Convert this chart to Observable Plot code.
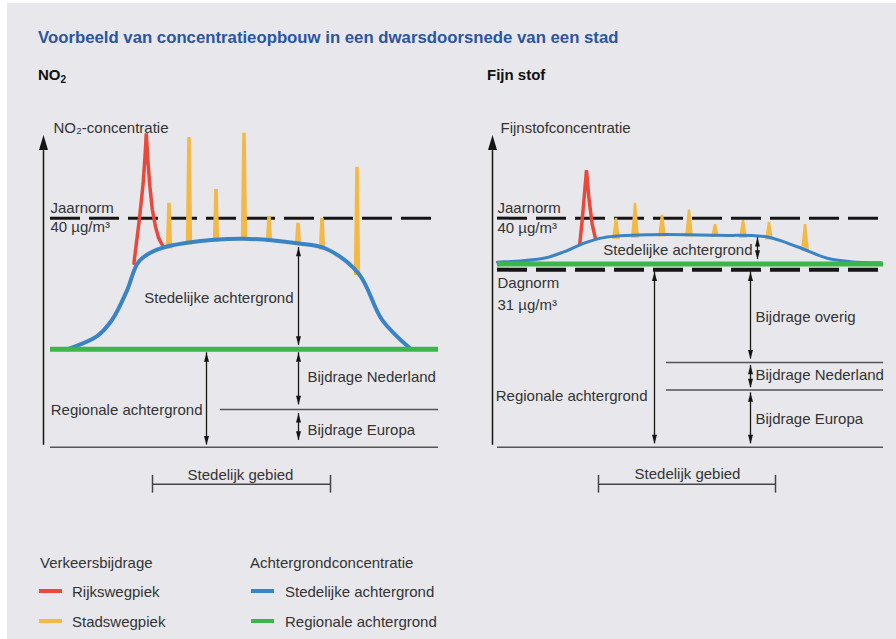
<!DOCTYPE html>
<html><head><meta charset="utf-8">
<script src="https://cdn.jsdelivr.net/npm/d3@7"></script>
<script src="https://cdn.jsdelivr.net/npm/@observablehq/plot@0.6"></script>
<style>
body{margin:0;background:#fff;font-family:"Liberation Sans",Arial,sans-serif;}
#page{position:relative;width:896px;height:639px;overflow:hidden;}
#bg{position:absolute;left:7px;top:3px;right:0;bottom:0;background:#e8e8ec;}
.t{position:absolute;white-space:nowrap;line-height:1;color:#333;font-size:15px;}
.title{color:#2b55a1;font-weight:bold;font-size:16.75px;}
.head{color:#111;font-weight:bold;font-size:15px;}
.head sub{font-size:10px;vertical-align:-3px;line-height:0;}
.sw{position:absolute;width:23px;height:4px;}
.panel{position:absolute;top:90px;}
</style></head>
<body><div id="page"><div id="bg"></div></div>
<script>
// ---------- data (x: position across the city section 0–100, y: concentration µg/m³) ----------
const no2UrbanX   = [5.9, 13.4, 17.2, 20.9, 23.8, 28.4, 35.9, 50.1, 63.4, 70.5, 78.8, 84.7, 91.75];
const no2UrbanY   = [17.1, 19.4, 22.3, 27.4, 32.4, 34.5, 35.7, 36.4, 35.6, 34.7, 30.3, 22.2, 17.2];
const no2HighwayX = [22.6, 24.0, 24.9, 25.4, 25.7, 26.1, 26.6, 27.2, 28.0, 28.8, 29.7];
const no2HighwayY = [32.1, 40.0, 46.0, 51.0, 54.8, 50.0, 45.5, 41.5, 38.5, 36.5, 35.3];
const no2StreetX    = [31.5, 36.5, 43.25, 50.25, 56.5, 63.75, 69.75, 78.5];
const no2StreetTop  = [42.6, 54.1, 45.0, 54.8, 40.2, 39.1, 40.0, 48.9];
const no2StreetBase = [34.6, 35.3, 35.8, 36.0, 35.8, 35.2, 34.4, 30.0];
const no2Regional = 17.1, no2EuropeTop = 6.6, no2AnnualNorm = 40;

const pmUrbanX   = [1.2, 12.8, 17.8, 22.8, 27.8, 39.5, 56.2, 68.7, 76.2, 83.7, 89.5, 97];
const pmUrbanY   = [32.3, 33.0, 34.1, 35.6, 36.6, 37.1, 37.0, 36.7, 35.0, 33.0, 32.4, 32.2];
const pmHighwayX = [21.8, 22.4, 22.9, 23.5, 24.1, 24.9, 25.75];
const pmHighwayY = [35.4, 39.5, 43.5, 48.4, 43.5, 39.0, 36.4];
const pmStreetX    = [31, 35.75, 42.5, 49.25, 55.75, 62.75, 69.25, 78.25];
const pmStreetTop  = [40.0, 42.6, 40.5, 41.4, 38.9, 39.6, 39.3, 38.9];
const pmStreetBase = [36.3, 36.5, 36.7, 36.7, 36.6, 36.5, 36.2, 34.3];
const pmRegional = 32, pmOtherBottom = 14.8, pmEuropeTop = 10.0, pmAnnualNorm = 40, pmDailyNorm = 31;

const legendTitles = ["Verkeersbijdrage", "Achtergrondconcentratie"];
const legendItems = ["Rijkswegpiek", "Stadswegpiek", "Stedelijke achtergrond", "Regionale achtergrond"];

// ---------- styling ----------
const C = {highway:"#e9483b", street:"#f4b944", urban:"#3a84c5", regional:"#3cb64b"};
const INK = "#151515", TXT = "#333", GREY = "#555";
const FONT = '"Liberation Sans", Arial, sans-serif';

function headSymbol(w, h){ return {draw(ctx){ ctx.moveTo(0,0); ctx.lineTo(w/2,h); ctx.lineTo(-w/2,h); ctx.closePath(); }}; }
const axisHead = headSymbol(9, 15);
const smallHead = headSymbol(5, 9);
const zip = (xs, ys) => xs.map((x,i)=>({x, y: ys[i]}));

function panel(p){
  const spikes = p.streetX.flatMap((x,i)=>[
    {id:i, y:p.streetBase[i], x1:x-p.spikeBase, x2:x+p.spikeBase},
    {id:i, y:p.streetTop[i],  x1:x-p.spikeTip,  x2:x+p.spikeTip}]);
  const txt = (anchor) => Plot.text(p.labels.filter(d=>d.a===anchor),
    {x:"x", y:"y", text:"text", textAnchor:anchor, lineAnchor:"middle", fontSize:15, fill:TXT});
  const b = p.bracket;
  return Plot.plot({
    width:448, height:420, marginLeft:p.ml, marginRight:448-p.ml-400, marginTop:36, marginBottom:6,
    x:{domain:[0,100], axis:null}, y:{domain:[-10,56], axis:null},
    style:{background:"transparent", overflow:"visible", fontFamily:FONT},
    marks:[
      Plot.ruleX([0], {y1:0.35, y2:p.axisTop-2, stroke:INK, strokeWidth:1.5}),
      Plot.dot([{x:0, y:p.axisTop}], {x:"x", y:"y", symbol:axisHead, fill:INK, stroke:"none"}),
      Plot.ruleY(p.thin, {y:"y", x1:"x1", x2:"x2", stroke:GREY, strokeWidth:1.6}),
      Plot.ruleY(p.normsUnder, {y:"y", x1:"x1", x2:"x2", stroke:INK, strokeWidth:3, strokeDasharray:"30,9"}),
      Plot.areaX(spikes, {y:"y", x1:"x1", x2:"x2", z:"id", fill:C.street}),
      Plot.line(zip(p.hwX, p.hwY), {x:"x", y:"y", stroke:C.highway, strokeWidth:3.5, strokeLinejoin:"miter"}),
      Plot.line(zip(p.urbanX, p.urbanY), {x:"x", y:"y", stroke:C.urban, strokeWidth:p.urbanW, curve:"catmull-rom"}),
      Plot.ruleY([p.green], {y:"y", x1:"x1", x2:"x2", stroke:C.regional, strokeWidth:5}),
      Plot.ruleY(p.normsOver, {y:"y", x1:"x1", x2:"x2", stroke:INK, strokeWidth:4, strokeDasharray:"30,9"}),
      Plot.ruleX(p.arrows, {x:"x", y1:"y1", y2:"y2", stroke:INK, strokeWidth:1.3}),
      Plot.dot(p.arrows, {x:"x", y:"y2", symbol:smallHead, fill:INK, stroke:"none"}),
      Plot.dot(p.arrows, {x:"x", y:"y1", symbol:smallHead, rotate:180, fill:INK, stroke:"none"}),
      txt("start"), txt("end"), txt("middle"),
      Plot.ruleY([b], {y:"y", x1:"x1", x2:"x2", stroke:"#444", strokeWidth:1.5}),
      Plot.ruleX([b.x1, b.x2], {y1:b.y+1.55, y2:b.y-1.55, stroke:"#444", strokeWidth:1.5})
    ]
  });
}

const left = panel({
  ml:43, axisTop:54.5, urbanW:4, spikeBase:0.8, spikeTip:0.45,
  urbanX:no2UrbanX, urbanY:no2UrbanY, hwX:no2HighwayX, hwY:no2HighwayY,
  streetX:no2StreetX, streetTop:no2StreetTop, streetBase:no2StreetBase,
  thin:[{y:0, x1:1.75, x2:98.75}, {y:no2EuropeTop, x1:44.25, x2:98.75}],
  normsUnder:[{y:no2AnnualNorm, x1:1.75, x2:97.5}], normsOver:[],
  green:{y:no2Regional, x1:1.75, x2:98.75},
  arrows:[{x:63.75, y1:17.8, y2:34.9}, {x:63.75, y1:7.4, y2:16.5}, {x:63.75, y1:1.2, y2:5.9}, {x:40.75, y1:0.4, y2:16.5}],
  labels:[
    {a:"start", x:2.5, y:55.7, text:"NO₂-concentratie"},
    {a:"start", x:1.75, y:41.7, text:"Jaarnorm"},
    {a:"start", x:1.75, y:38.4, text:"40 µg/m³"},
    {a:"start", x:66, y:12.2, text:"Bijdrage Nederland"},
    {a:"start", x:66, y:3.0, text:"Bijdrage Europa"},
    {a:"end", x:62.5, y:26.0, text:"Stedelijke achtergrond"},
    {a:"end", x:39.75, y:6.5, text:"Regionale achtergrond"},
    {a:"middle", x:49.25, y:-4.9, text:"Stedelijk gebied"}],
  bracket:{y:-6.46, x1:27.25, x2:71.75}
});

const right = panel({
  ml:44, axisTop:54.5, urbanW:3, spikeBase:1.0, spikeTip:0.3,
  urbanX:pmUrbanX, urbanY:pmUrbanY, hwX:pmHighwayX, hwY:pmHighwayY,
  streetX:pmStreetX, streetTop:pmStreetTop, streetBase:pmStreetBase,
  thin:[{y:0, x1:1.25, x2:97.75}, {y:pmOtherBottom, x1:43.5, x2:97.75}, {y:pmEuropeTop, x1:43.5, x2:97.75}],
  normsUnder:[{y:pmAnnualNorm, x1:1.25, x2:97}], normsOver:[{y:pmDailyNorm, x1:1.25, x2:97}],
  green:{y:pmRegional, x1:1.25, x2:97.75},
  arrows:[{x:66.25, y1:32.8, y2:36.6}, {x:40.5, y1:0.6, y2:30.6}, {x:64.5, y1:15.4, y2:30.6}, {x:64.5, y1:10.4, y2:14.3}, {x:64.5, y1:0.6, y2:9.5}],
  labels:[
    {a:"start", x:2, y:55.7, text:"Fijnstofconcentratie"},
    {a:"start", x:1.25, y:41.7, text:"Jaarnorm"},
    {a:"start", x:1.25, y:38.2, text:"40 µg/m³"},
    {a:"start", x:1.25, y:28.6, text:"Dagnorm"},
    {a:"start", x:1.25, y:24.8, text:"31 µg/m³"},
    {a:"start", x:65.75, y:22.7, text:"Bijdrage overig"},
    {a:"start", x:65.75, y:12.6, text:"Bijdrage Nederland"},
    {a:"start", x:65.75, y:4.9, text:"Bijdrage Europa"},
    {a:"end", x:65, y:34.4, text:"Stedelijke achtergrond"},
    {a:"end", x:38.75, y:8.9, text:"Regionale achtergrond"},
    {a:"middle", x:48.75, y:-4.7, text:"Stedelijk gebied"}],
  bracket:{y:-6.46, x1:26.5, x2:70.75}
});

const page = document.getElementById("page");
function add(html, cls, l, t){ const d=document.createElement("div"); d.className=cls; d.style.left=l+"px"; d.style.top=t+"px"; d.innerHTML=html; page.appendChild(d); return d; }
function sw(color, l, t){ const d=document.createElement("div"); d.className="sw"; d.style.left=l+"px"; d.style.top=t+"px"; d.style.background=color; page.appendChild(d); }

add("Voorbeeld van concentratieopbouw in een dwarsdoorsnede van een stad", "t title", 38, 29.5);
add("NO<sub>2</sub>", "t head", 38, 66.5);
add("Fijn stof", "t head", 487, 66.5);

left.classList.add("panel"); left.style.left="0px"; page.appendChild(left);
right.classList.add("panel"); right.style.left="448px"; page.appendChild(right);

add(legendTitles[0], "t", 40, 554.5);
add(legendTitles[1], "t", 250, 554.5);
const swCol = [C.highway, C.street, C.urban, C.regional];
legendItems.forEach((name,i)=>{
  const col = i<2 ? 0 : 1, row = i%2;
  const sx = col ? 251 : 39, tx = col ? 285 : 72, cy = row ? 621 : 591;
  sw(swCol[i], sx, cy-2);
  add(name, "t", tx, cy-7.5);
});
</script></body></html>
